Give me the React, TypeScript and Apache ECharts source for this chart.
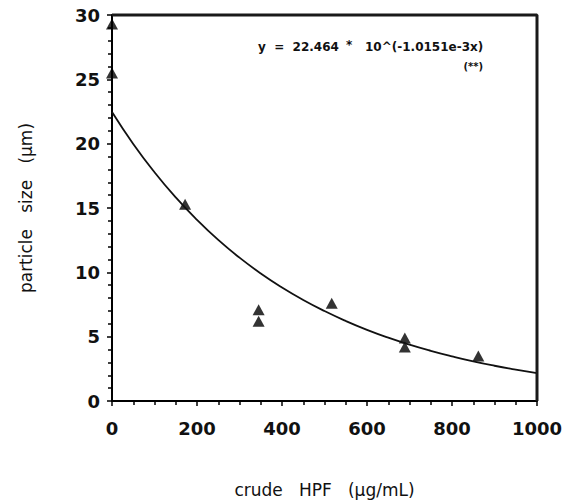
import React, { useEffect, useRef } from "react";
import * as echarts from "echarts";

const pointX = [0, 0, 172, 345, 345, 517, 689, 689, 862];
const pointY = [29.3, 25.5, 15.3, 7.1, 6.2, 7.6, 4.9, 4.2, 3.5];

const curveX = [0, 50, 100, 150, 200, 250, 300, 350, 400, 450, 500, 550, 600, 650, 700, 750, 800, 850, 900, 950, 1000];
const curveY = [22.46, 19.98, 17.78, 15.82, 14.08, 12.52, 11.14, 9.91, 8.82, 7.85, 6.99, 6.22, 5.53, 4.92, 4.38, 3.9, 3.47, 3.08, 2.74, 2.44, 2.17];

const frameX = [0, 1000, 1000];
const frameY = [30, 30, 0];

const eqLeft = "y  =  22.464";
const eqStar = "*";
const eqRight = "10^(-1.0151e-3x)";
const noteText = "(**)";
const xName = "crude   HPF   (µg/mL)";
const yName = "particle   size   (µm)";

export default function App() {
  const ref = useRef<HTMLDivElement>(null);
  useEffect(() => {
    if (!ref.current) return;
    const chart = echarts.init(ref.current, null, { renderer: "svg" });
    const font = "'DejaVu Sans', sans-serif";
    chart.setOption({
      animation: false,
      backgroundColor: "#ffffff",
      grid: { left: 112, right: 29, top: 15, bottom: 101 },
      xAxis: {
        type: "value",
        min: 0,
        max: 1000,
        interval: 200,
        name: xName,
        nameLocation: "middle",
        nameGap: 80,
        nameTextStyle: { fontFamily: font, fontSize: 17, color: "#111" },
        axisLine: { show: true, onZero: false, lineStyle: { color: "#000", width: 2 } },
        axisTick: { show: true, length: 5, lineStyle: { color: "#000", width: 1.5 } },
        minorTick: { show: true, splitNumber: 4, length: 4, lineStyle: { color: "#000", width: 1.5 } },
        splitLine: { show: false },
        axisLabel: { fontFamily: font, fontSize: 18, fontWeight: "bold", color: "#111", margin: 18, formatter: (v: number) => String(v) },
      },
      yAxis: {
        type: "value",
        min: 0,
        max: 30,
        interval: 5,
        name: yName,
        nameLocation: "middle",
        nameGap: 78,
        nameTextStyle: { fontFamily: font, fontSize: 17, color: "#111" },
        axisLine: { show: true, onZero: false, lineStyle: { color: "#000", width: 2 } },
        axisTick: { show: true, length: 5, lineStyle: { color: "#000", width: 1.5 } },
        minorTick: { show: true, splitNumber: 5, length: 4, lineStyle: { color: "#000", width: 1.5 } },
        splitLine: { show: false },
        axisLabel: { fontFamily: font, fontSize: 18, fontWeight: "bold", color: "#111", margin: 12 },
      },
      graphic: [
        { type: "text", left: 258, top: 41, style: { text: eqLeft, fontFamily: font, fontSize: 12, fontWeight: "bold", fill: "#111" } },
        { type: "text", left: 346, top: 39, style: { text: eqStar, fontFamily: font, fontSize: 12, fontWeight: "bold", fill: "#111" } },
        { type: "text", left: 365, top: 41, style: { text: eqRight, fontFamily: font, fontSize: 12, fontWeight: "bold", fill: "#111" } },
        { type: "text", right: 83, top: 61, style: { text: noteText, fontFamily: font, fontSize: 10, fontWeight: "bold", fill: "#111" } },
      ],
      series: [
        {
          type: "line",
          data: curveX.map((x, i) => [x, curveY[i]]),
          smooth: true,
          showSymbol: false,
          lineStyle: { color: "#111", width: 1.8 },
          clip: false,
        },
        {
          type: "scatter",
          data: pointX.map((x, i) => [x, pointY[i]]),
          symbol: "triangle",
          symbolSize: [12, 11],
          itemStyle: { color: "#000" },
          clip: false,
        },
        {
          type: "line",
          data: frameX.map((x, i) => [x, frameY[i]]),
          showSymbol: false,
          silent: true,
          lineStyle: { color: "#1a1a1a", width: 3, opacity: 1 },
          clip: false,
          z: 10,
        },
      ],
    });
    return () => chart.dispose();
  }, []);
  return <div ref={ref} style={{ width: 566, height: 503, position: "absolute", left: 0, top: 0 }} />;
}
